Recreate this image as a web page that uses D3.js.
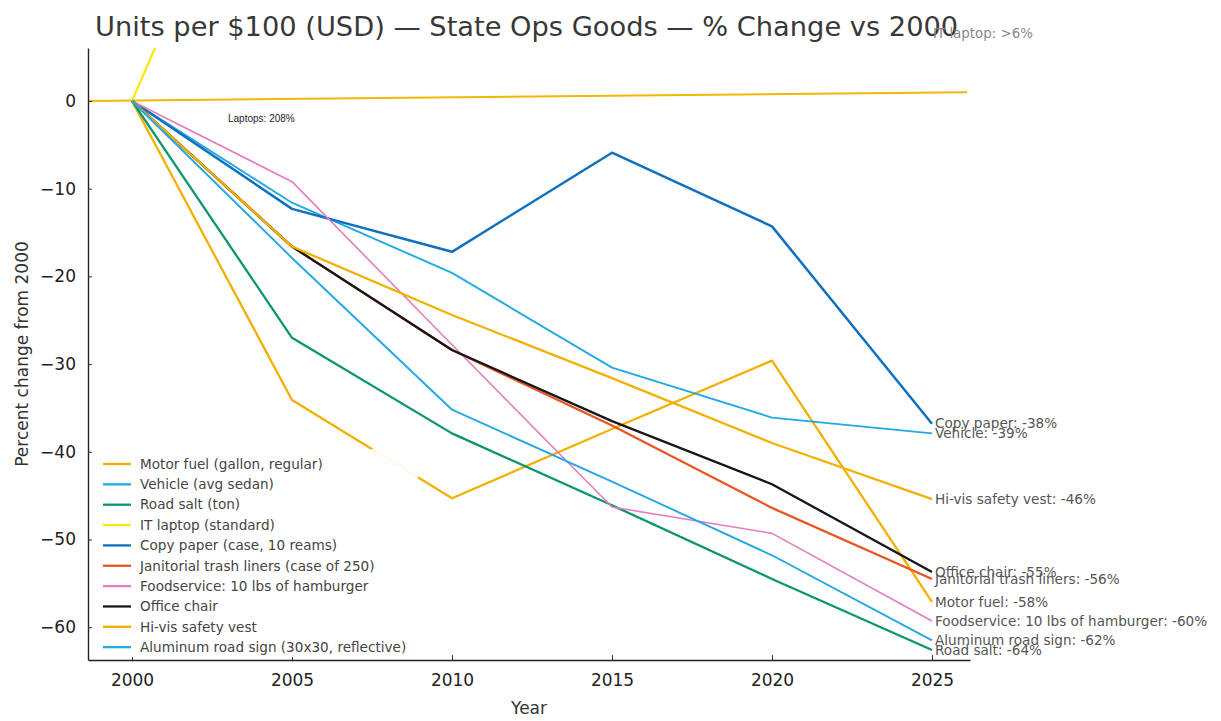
<!DOCTYPE html>
<html>
<head>
<meta charset="utf-8">
<script src="https://cdn.jsdelivr.net/npm/d3@7"></script>
<style>
  body { margin: 0; background: #fff; }
  svg { display: block; font-family: "DejaVu Sans", sans-serif; }
</style>
</head>
<body>
<div id="graph"></div>
<script>
"use strict";

var width = 1221,
    height = 721;

// values, percent change from 2000
const years = [2000, 2005, 2010, 2015, 2020, 2025];
const seriesNames = [
    "Motor fuel (gallon, regular)",
    "Vehicle (avg sedan)",
    "Road salt (ton)",
    "IT laptop (standard)",
    "Copy paper (case, 10 reams)",
    "Janitorial trash liners (case of 250)",
    "Foodservice: 10 lbs of hamburger",
    "Office chair",
    "Hi-vis safety vest",
    "Aluminum road sign (30x30, reflective)"
];
const motorFuel   = [0, -34.1, -45.3, -37.4, -29.6, -57.1];
const vehicle     = [0, -11.6, -19.6, -30.4, -36.1, -37.9];
const roadSalt    = [0, -27.0, -37.9, -46.1, -54.5, -62.6];
const itLaptop    = [0, 42, 86, 128, 168, 208];
const copyPaper   = [0, -12.3, -17.2, -5.9, -14.3, -36.8];
const janitorial  = [0, -16.6, -28.4, -37.0, -46.4, -54.5];
const foodservice = [0, -9.2, -27.8, -46.3, -49.3, -59.3];
const officeChair = [0, -16.6, -28.4, -36.5, -43.7, -53.7];
const hiVis       = [0, -16.6, -24.4, -31.6, -39.0, -45.4];
const roadSign    = [0, -17.9, -35.2, -43.4, -51.8, -61.5];

// end-of-line labels (null = no label)
const endLabels = [
    "Motor fuel: -58%",
    "Vehicle: -39%",
    "Road salt: -64%",
    null,
    "Copy paper: -38%",
    "Janitorial trash liners: -56%",
    "Foodservice: 10 lbs of hamburger: -60%",
    "Office chair: -55%",
    "Hi-vis safety vest: -46%",
    "Aluminum road sign: -62%"
];

const yTicks = [0, -10, -20, -30, -40, -50, -60];
const zeroLine = [[1998.625, 0], [2026.1, 1.0]];

const allValues = [motorFuel, vehicle, roadSalt, itLaptop, copyPaper,
                   janitorial, foodservice, officeChair, hiVis, roadSign];

const colors = ["#f2b000", "#22a8e2", "#0a9570", "#f5ea12", "#0e70be",
                "#ea5420", "#e67cbf", "#161616", "#f2b000", "#22a8e2"];
const widths = [2.3, 1.9, 2.3, 2.3, 2.5, 2.3, 1.6, 2.3, 2.3, 1.9];

let svg = d3.select("#graph")
    .append("svg")
    .attr("width", width)
    .attr("height", height);

let plot = { left: 88, right: 970, top: 48, bottom: 660 };

let x = d3.scaleLinear()
    .domain([1998.625, 2026.1875])
    .range([plot.left, plot.right]);

let y = d3.scaleLinear()
    .domain([-63.74, 6.04])
    .range([plot.bottom, plot.top]);

svg.append("clipPath").attr("id", "clip")
    .append("rect")
    .attr("x", plot.left)
    .attr("y", plot.top)
    .attr("width", plot.right - plot.left)
    .attr("height", plot.bottom - plot.top);

let lines = svg.append("g").attr("clip-path", "url(#clip)");

let line = d3.line()
    .x(d => x(d[0]))
    .y(d => y(d[1]));

// reference line near zero
lines.append("path")
    .attr("d", line(zeroLine))
    .attr("fill", "none")
    .attr("stroke", "#f0b800")
    .attr("stroke-width", 2);

allValues.forEach(function (vals, i) {
    lines.append("path")
        .attr("d", line(years.map((yr, j) => [yr, vals[j]])))
        .attr("fill", "none")
        .attr("stroke", colors[i])
        .attr("stroke-width", widths[i])
        .attr("stroke-linejoin", "round");
});

// axes
let xAxis = d3.axisBottom(x)
    .tickValues(years)
    .tickFormat(d3.format("d"))
    .tickSizeInner(-5)
    .tickSizeOuter(0)
    .tickPadding(14);

let yAxis = d3.axisLeft(y)
    .tickValues(yTicks)
    .tickFormat(d => d < 0 ? "\u2212" + Math.abs(d) : d)
    .tickSizeInner(-4)
    .tickSizeOuter(0)
    .tickPadding(12);

let gx = svg.append("g")
    .attr("transform", "translate(0," + plot.bottom + ")")
    .call(xAxis);

let gy = svg.append("g")
    .attr("transform", "translate(" + plot.left + ",0)")
    .call(yAxis);

[gx, gy].forEach(function (g) {
    g.select(".domain").attr("stroke", "#222").attr("stroke-width", 1.4);
    g.selectAll(".tick line").attr("stroke", "#333");
    g.selectAll(".tick text")
        .attr("fill", "#222")
        .style("font-size", "17px")
        .style("font-family", "DejaVu Sans");
});

// legend with semi-opaque white box
let legend = svg.append("g");
legend.append("rect")
    .attr("x", 93)
    .attr("y", 449)
    .attr("width", 325)
    .attr("height", 208)
    .attr("fill", "#fff")
    .attr("opacity", 0.92);

seriesNames.forEach(function (name, i) {
    let ly = 464 + i * 20.35;
    legend.append("line")
        .attr("x1", 103).attr("x2", 131)
        .attr("y1", ly).attr("y2", ly)
        .attr("stroke", colors[i])
        .attr("stroke-width", 2.3);
    legend.append("text")
        .attr("x", 140)
        .attr("y", ly)
        .attr("dy", "0.35em")
        .attr("fill", "#444")
        .style("font-size", "13.6px")
        .text(name);
});

// labels at the end of each line
endLabels.forEach(function (txt, i) {
    if (!txt) return;
    let vals = allValues[i];
    svg.append("text")
        .attr("x", x(2025) + 3)
        .attr("y", y(vals[vals.length - 1]))
        .attr("dy", "0.35em")
        .attr("fill", "#555")
        .style("font-size", "13.6px")
        .text(txt);
});

// title
let title = svg.append("text")
    .attr("x", 95)
    .attr("y", 36)
    .attr("fill", "#383838")
    .style("font-size", "23px")
    .text("Units per $100 (USD) \u2014 State Ops Goods \u2014 % Change vs 2000");
let tw = title.node().getComputedTextLength();
title.style("font-size", (23 * 863 / tw).toFixed(2) + "px");

// annotations
svg.append("text")
    .attr("x", 933)
    .attr("y", 33)
    .attr("dy", "0.35em")
    .attr("fill", "#888")
    .style("font-size", "13.4px")
    .text("IT laptop: >6%");

svg.append("text")
    .attr("x", 228)
    .attr("y", 118)
    .attr("dy", "0.35em")
    .attr("fill", "#222")
    .style("font-family", "Liberation Sans, Arial, sans-serif")
    .style("font-size", "10px")
    .text("Laptops: 208%");

// axis titles
svg.append("text")
    .attr("x", (plot.left + plot.right) / 2)
    .attr("y", 714)
    .attr("text-anchor", "middle")
    .attr("fill", "#333")
    .style("font-size", "17px")
    .text("Year");

svg.append("text")
    .attr("transform", "translate(28," + ((plot.top + plot.bottom) / 2) + ") rotate(-90)")
    .attr("text-anchor", "middle")
    .attr("fill", "#333")
    .style("font-size", "17px")
    .text("Percent change from 2000");
</script>
</body>
</html>
